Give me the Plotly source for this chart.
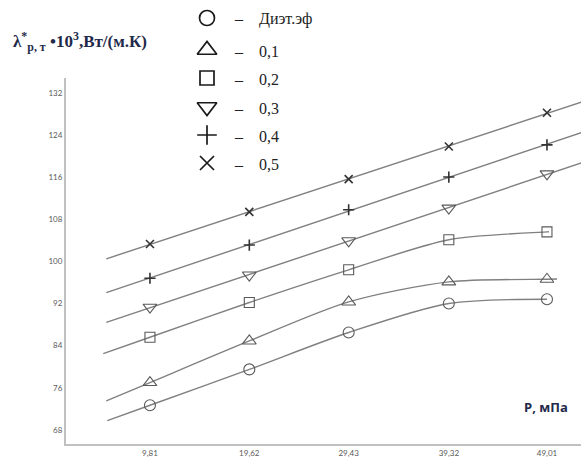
import numpy as np
import plotly.graph_objects as go

# ---------------- data ----------------
pressure = [9.81, 19.62, 29.43, 39.32, 49.01]
x_tick_text = ["9,81", "19,62", "29,43", "39,32", "49,01"]
y_ticks = [68, 76, 84, 92, 100, 108, 116, 124, 132]

series_names = ["Диэт.эф", "0,1", "0,2", "0,3", "0,4", "0,5"]
s_diet = [72.7, 79.5, 86.5, 92.0, 92.8]
s_01 = [77.0, 84.9, 92.3, 96.1, 96.6]
s_02 = [85.6, 92.2, 98.4, 104.1, 105.6]
s_03 = [91.3, 97.4, 103.9, 110.1, 116.6]
s_04 = [96.8, 103.1, 109.8, 116.0, 122.1]
s_05 = [103.3, 109.4, 115.6, 121.8, 128.2]
series_values = [s_diet, s_01, s_02, s_03, s_04, s_05]

# trend-line settings: linear fit for upper series, smoothed curve for lower ones
is_linear = [False, False, False, True, True, True]
fit_start = [5.6, 5.5, 5.2, 5.5, 5.5, 5.5]
fit_end = [49.01, 50.0, 49.2, 53.0, 53.0, 53.0]

symbols = ["circle-open", "triangle-up-open", "square-open",
           "triangle-down-open", "cross-thin-open", "x-thin-open"]
sizes = [11, 12, 10, 12, 8, 8]

W, H = 581, 459
fig = go.Figure()

line_col = "#808080"
mk_col = "#5a5a5a"

for i, vals in enumerate(series_values):
    if is_linear[i]:
        coef = np.polyfit(pressure, vals, 1)
        xs = np.array([fit_start[i], fit_end[i]])
        ys = np.polyval(coef, xs)
        shape = "linear"
    else:
        # extend the smooth curve linearly beyond the first / last points
        s0 = (vals[1] - vals[0]) / (pressure[1] - pressure[0])
        s1 = (vals[-1] - vals[-2]) / (pressure[-1] - pressure[-2])
        xs = [fit_start[i]] + list(pressure)
        ys = [vals[0] + s0 * (fit_start[i] - pressure[0])] + list(vals)
        if fit_end[i] > pressure[-1]:
            xs.append(fit_end[i])
            ys.append(vals[-1] + s1 * (fit_end[i] - pressure[-1]))
        shape = "spline"
    fig.add_trace(go.Scatter(x=xs, y=ys, mode="lines",
                             line=dict(color=line_col, width=1.4, shape=shape, smoothing=0.8),
                             showlegend=False, hoverinfo="skip"))
for i, vals in enumerate(series_values):
    dark = i >= 4
    fig.add_trace(go.Scatter(
        x=pressure, y=vals, mode="markers", name=series_names[i],
        marker=dict(symbol=symbols[i], size=sizes[i], color="#333" if dark else mk_col,
                    line=dict(color="#333" if dark else mk_col, width=1.6 if dark else 1.1)),
        showlegend=False))

# legend drawn on a full-figure axis (pixel-like coordinates)
leg_x = 207
leg_y = [18, 50, 78, 107, 135, 163]
leg_sizes = [15, 17, 14, 17, 14, 14]
NB = "\u00a0"
for i in range(6):
    fig.add_trace(go.Scatter(
        x=[leg_x], y=[leg_y[i]], xaxis="x2", yaxis="y2", mode="markers",
        marker=dict(symbol=symbols[i], size=leg_sizes[i], color="#1a1a1a",
                    line=dict(color="#1a1a1a", width=1.7)),
        showlegend=False, hoverinfo="skip"))
    fig.add_annotation(x=232, y=leg_y[i] + 1, xref="x2", yref="y2",
                       text="–" + NB * 4 + series_names[i],
                       xanchor="left", showarrow=False,
                       font=dict(family="Liberation Serif", size=16, color="#222"))

# axis title texts
fig.add_annotation(x=11, y=41, xref="x2", yref="y2", xanchor="left",
                   text="<b>λ<sup>*</sup><sub>р, т</sub> •10<sup>3</sup>,Вт/(м.К)</b>",
                   showarrow=False, font=dict(family="Liberation Serif", size=17, color="#1f2a4a"))
fig.add_annotation(x=570, y=407, xref="x2", yref="y2", xanchor="right",
                   text="<b>P, мПа</b>", showarrow=False,
                   font=dict(family="Open Sans", size=13, color="#1f2a4a"))

x_left, x_right = 1.52, 52.37
y_bot, y_top = 65.34, 134.8

fig.update_layout(
    width=W, height=H, margin=dict(l=0, r=0, t=0, b=0),
    paper_bgcolor="white", plot_bgcolor="rgba(0,0,0,0)",
    xaxis=dict(domain=[66 / W, 1], range=[x_left, x_right], tickvals=pressure,
               ticktext=x_tick_text, showgrid=False, zeroline=False,
               showline=True, linecolor="#c0c0c0", linewidth=2, ticks="",
               tickfont=dict(family="Lato", size=8, color="#595959"), automargin=False),
    yaxis=dict(domain=[15 / H, 381 / H], range=[y_bot, y_top], tickvals=y_ticks,
               showgrid=False, zeroline=False, showline=True, linecolor="#c0c0c0",
               linewidth=2, ticks="", tickfont=dict(family="Lato", size=8, color="#595959"),
               automargin=False),
    xaxis2=dict(domain=[0, 1], range=[0, W], visible=False, anchor="y2", fixedrange=True),
    yaxis2=dict(domain=[0, 1], range=[H, 0], visible=False, anchor="x2", fixedrange=True),
    showlegend=False,
)

fig.write_html("out.html")
